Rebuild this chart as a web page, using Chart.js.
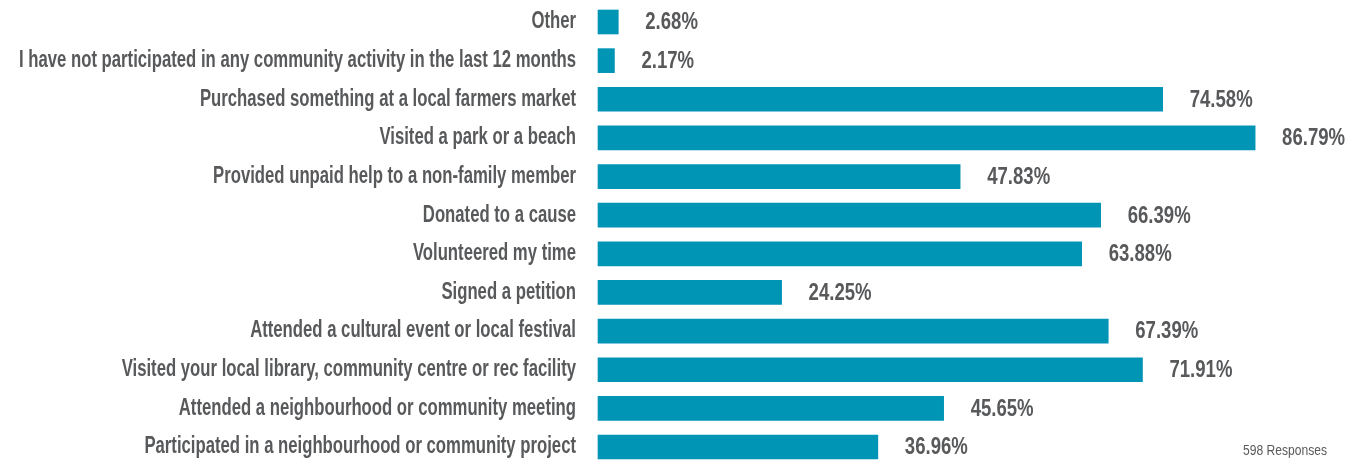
<!DOCTYPE html>
<html>
<head>
<meta charset="utf-8">
<script src="https://cdn.jsdelivr.net/npm/chart.js@4/dist/chart.umd.min.js"></script>
<style>
  html, body { margin: 0; padding: 0; background: #ffffff; }
  #wrap { width: 1349px; height: 461px; position: relative; }
</style>
</head>
<body>
<div id="wrap"><canvas id="chart"></canvas></div>
<script>
// Survey answers (top to bottom) and share of respondents, in percent
const categories = [
  'Other',
  'I have not participated in any community activity in the last 12 months',
  'Purchased something at a local farmers market',
  'Visited a park or a beach',
  'Provided unpaid help to a non-family member',
  'Donated to a cause',
  'Volunteered my time',
  'Signed a petition',
  'Attended a cultural event or local festival',
  'Visited your local library, community centre or rec facility',
  'Attended a neighbourhood or community meeting',
  'Participated in a neighbourhood or community project'
];
const percentages = [2.68, 2.17, 74.58, 86.79, 47.83, 66.39, 63.88, 24.25, 67.39, 71.91, 45.65, 36.96];
const responseNote = '598 Responses';

const FAMILY = '"Liberation Sans", Arial, sans-serif';
const TEXT_GREY = '#58595b';
const BAR_BLUE = '#0094b5';

const LABEL_FONT = 'bold 23px ' + FAMILY;
const VALUE_FONT = 'bold 23px ' + FAMILY;
const NOTE_FONT = '15px ' + FAMILY;

// Horizontal condensing factors so the text reads as a narrow gothic face
const measureCtx = document.createElement('canvas').getContext('2d');
function widthOf(font, text) {
  measureCtx.font = font;
  return measureCtx.measureText(text).width;
}
const longest = Math.max(...categories.map(c => widthOf(LABEL_FONT, c)));
const labelSqueeze = Math.min(1, 557 / longest);
const valueSqueeze = Math.min(1, 63 / widthOf(VALUE_FONT, '86.79%'));
const noteSqueeze = Math.min(1, 84 / widthOf(NOTE_FONT, responseNote));

function condensedText(ctx, text, x, y, factor) {
  ctx.save();
  ctx.translate(x, y);
  ctx.scale(factor, 1);
  ctx.fillText(text, 0, 0);
  ctx.restore();
}

const valueLabels = {
  id: 'valueLabels',
  afterDatasetsDraw(chart) {
    const ctx = chart.ctx;
    const meta = chart.getDatasetMeta(0);
    ctx.save();
    ctx.font = VALUE_FONT;
    ctx.fillStyle = TEXT_GREY;
    ctx.textAlign = 'left';
    ctx.textBaseline = 'middle';
    meta.data.forEach((bar, i) => {
      condensedText(ctx, percentages[i].toFixed(2) + '%', bar.x + 27, bar.y + 1, valueSqueeze);
    });
    ctx.restore();
  }
};

const footNote = {
  id: 'footNote',
  afterDraw(chart) {
    const ctx = chart.ctx;
    ctx.save();
    ctx.font = NOTE_FONT;
    ctx.fillStyle = TEXT_GREY;
    ctx.textAlign = 'right';
    ctx.textBaseline = 'middle';
    condensedText(ctx, responseNote, 1327, 451, noteSqueeze);
    ctx.restore();
  }
};

new Chart(document.getElementById('chart'), {
  type: 'bar',
  data: {
    labels: categories,
    datasets: [{
      data: percentages,
      backgroundColor: BAR_BLUE,
      borderWidth: 0,
      barThickness: 24,
      clip: false
    }]
  },
  options: {
    indexAxis: 'y',
    responsive: true,
    maintainAspectRatio: false,
    animation: false,
    layout: { padding: { top: 22, bottom: 14, left: 0, right: 9 } },
    plugins: {
      legend: { display: false },
      tooltip: { enabled: false },
      title: { display: false }
    },
    scales: {
      x: {
        min: 0,
        max: 98,
        display: false,
        grid: { display: false }
      },
      y: {
        offset: false,
        grid: { display: false, drawTicks: false },
        border: { display: false },
        ticks: {
          padding: 22,
          color: TEXT_GREY,
          font: { family: FAMILY, size: 23, weight: 'bold' },
          autoSkip: false
        },
        afterFit(scale) {
          scale.width = 598;
          // first and last rows sit on the plot edges; no extra room for label overhang
          scale.paddingTop = 0;
          scale.paddingBottom = 0;
          if (!scale._condensed) {
            const baseDraw = scale.drawLabels;
            // labels are squeezed toward their right edge; no clip box needed
            scale._computeLabelArea = () => undefined;
            scale.drawLabels = function (area) {
              const ctx = this.ctx;
              const ax = this.right - 22;
              ctx.save();
              ctx.translate(ax, 0);
              ctx.scale(labelSqueeze, 1);
              ctx.translate(-ax, 0);
              baseDraw.call(this, area);
              ctx.restore();
            };
            scale._condensed = true;
          }
        }
      }
    }
  },
  plugins: [valueLabels, footNote]
});
</script>
</body>
</html>
